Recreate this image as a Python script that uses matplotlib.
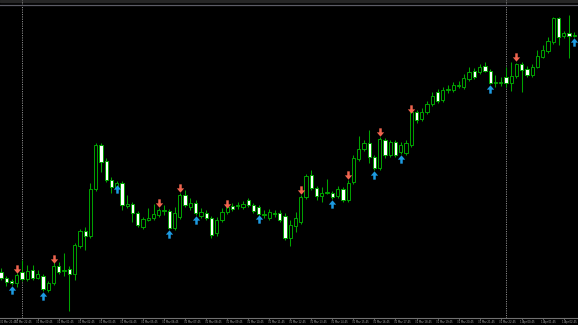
import matplotlib.pyplot as plt
from matplotlib.path import Path
import numpy as np

### --- candle data (15-min bars, oldest first) ---
opens = [53, 47, 44, 42, 53, 46, 55, 47, 49, 35,
         42, 59, 54, 56, 51, 79, 94, 89, 136, 180,
         164, 145, 138, 142, 119, 121, 112, 98, 105, 107,
         110, 114, 114, 97, 108, 130, 118, 122, 109, 112,
         107, 92, 105, 113, 119, 119, 118, 125, 120, 118,
         110, 107, 111, 112, 109, 87, 99, 103, 128, 150,
         137, 129, 132, 132, 129, 136, 125, 143, 166, 176,
         182, 168, 157, 185, 170, 183, 173, 172, 180, 213,
         206, 213, 221, 233, 225, 235, 235, 239, 238, 246,
         254, 253, 259, 254, 242, 242, 248, 242, 249, 261,
         256, 250, 258, 268, 274, 283, 307, 289, 292, 289,
         290]
highs = [57, 49, 46, 52, 65, 60, 60, 55, 51, 44,
         63, 63, 72, 59, 82, 96, 98, 142, 182, 182,
         167, 148, 144, 144, 130, 123, 114, 108, 117, 121,
         117, 120, 116, 118, 132, 135, 127, 125, 117, 115,
         109, 108, 117, 121, 122, 123, 124, 127, 122, 120,
         115, 116, 115, 115, 112, 105, 113, 130, 151, 155,
         139, 138, 146, 134, 139, 138, 145, 170, 189, 185,
         195, 170, 188, 187, 185, 185, 183, 185, 215, 215,
         217, 224, 233, 236, 238, 240, 243, 244, 251, 258,
         257, 261, 263, 256, 250, 248, 258, 263, 262, 263,
         259, 261, 275, 280, 288, 308, 308, 294, 310, 293,
         292]
lows = [45, 39, 40, 38, 44, 44, 45, 46, 34, 33,
        40, 51, 49, 14, 45, 77, 75, 87, 134, 153,
        143, 132, 136, 115, 117, 103, 98, 96, 104, 105,
        108, 110, 96, 95, 106, 118, 115, 110, 107, 105,
        87, 89, 103, 111, 114, 116, 116, 118, 112, 110,
        107, 105, 108, 103, 85, 79, 93, 101, 126, 135,
        125, 123, 131, 126, 127, 123, 123, 141, 164, 174,
        162, 155, 155, 167, 168, 168, 171, 170, 178, 202,
        204, 211, 219, 222, 223, 232, 233, 237, 236, 244,
        246, 251, 253, 241, 238, 239, 238, 234, 247, 233,
        248, 248, 257, 267, 272, 281, 280, 287, 267, 288,
        263]
closes = [47, 43, 42, 50, 46, 54, 47, 51, 36, 42,
          59, 53, 55, 51, 80, 94, 89, 136, 180, 163,
          145, 138, 142, 120, 121, 112, 100, 106, 107, 111,
          115, 115, 97, 112, 130, 120, 122, 112, 113, 107,
          90, 105, 113, 118, 116, 120, 121, 120, 114, 111,
          111, 113, 112, 105, 87, 100, 107, 128, 149, 137,
          129, 132, 133, 128, 136, 125, 142, 167, 176, 182,
          168, 157, 186, 170, 183, 170, 180, 182, 213, 205,
          213, 221, 229, 224, 235, 236, 240, 240, 247, 253,
          248, 258, 254, 242, 243, 243, 242, 249, 261, 255,
          250, 258, 269, 275, 284, 307, 288, 292, 289, 290,
          265]

# indicator signals
buy_bars = [2, 8, 22, 32, 37, 49, 63, 71, 76, 93, 109]
buy_levels = [35, 29, 136, 91, 105, 106, 121.5, 150.5, 166, 236, 283.5]
sell_bars = [3, 10, 30, 34, 43, 57, 66, 72, 78, 98]
sell_levels = [56.5, 66, 122, 137, 121, 135, 150, 193, 216.5, 268]

# day separators and time axis
separator_bars = [4, 96]
label_bars = list(range(-1, 108, 4))
time_labels = ["30 Mar 21:45", "30 Mar 22:45", "31 Mar 00:45", "31 Mar 01:45",
               "31 Mar 02:45", "31 Mar 03:45", "31 Mar 04:45", "31 Mar 05:45",
               "31 Mar 06:45", "31 Mar 07:45", "31 Mar 08:45", "31 Mar 09:45",
               "31 Mar 10:45", "31 Mar 11:45", "31 Mar 12:45", "31 Mar 13:45",
               "31 Mar 14:45", "31 Mar 15:45", "31 Mar 16:45", "31 Mar 17:45",
               "31 Mar 18:45", "31 Mar 19:45", "31 Mar 20:45", "31 Mar 21:45",
               "31 Mar 22:45", "1 Apr 00:45", "1 Apr 01:45", "1 Apr 02:45"]

CANDLE_GREEN = "#00a400"
GRID_GRAY = "#8a8a8a"
X_LEFT, X_RIGHT = -0.19, 109.7


### --- arrow marker ---
def arrow_marker(up: bool = True) -> Path:
    pts = [(-0.15, -0.5), (0.15, -0.5), (0.15, -0.02), (0.44, -0.02),
           (0.0, 0.5), (-0.44, -0.02), (-0.15, -0.02), (-0.15, -0.5)]
    if not up:
        pts = [(x, -y) for x, y in pts]
    return Path(pts, closed=True)


### --- draw the chart ---
def plot() -> None:
    fig = plt.figure(figsize=(5.78, 3.25), dpi=100, facecolor="black")
    ax = fig.add_axes([0, 7 / 325, 1, 318 / 325])
    ax.set_facecolor("black")

    x = np.arange(len(opens))
    o, h, l, c = map(np.asarray, (opens, highs, lows, closes))

    # wicks + bodies (bull = black, bear = white, MT4 style)
    ax.vlines(x, l, h, colors=CANDLE_GREEN, linewidth=0.75, zorder=2)
    bottoms = np.minimum(o, c)
    heights = np.maximum(np.abs(c - o), 0.6)
    fills = np.where(c >= o, "black", "white")
    ax.bar(x, heights, bottom=bottoms, width=0.62, color=fills,
           edgecolor=CANDLE_GREEN, linewidth=0.7, zorder=3)

    # buy / sell arrows
    ax.plot(buy_bars, buy_levels, linestyle="none", marker=arrow_marker(True),
            markersize=6.0, color="#1d9be2", markeredgewidth=0, zorder=4)
    ax.plot(sell_bars, sell_levels, linestyle="none", marker=arrow_marker(False),
            markersize=6.0, color="#f0654f", markeredgewidth=0, zorder=4)

    # period separators
    for b in separator_bars:
        ax.axvline(b, color=GRID_GRAY, linestyle=(0, (1.2, 1.2)), linewidth=0.7, zorder=1)

    # top strip of the terminal window
    ax.axhspan(322.6, 325, color="#262626", zorder=0)
    ax.axhline(320, color="#5c5c66", linewidth=0.9, zorder=1)

    for side in ("top", "left", "right"):
        ax.spines[side].set_visible(False)
    ax.spines["bottom"].set_color("#707070")
    ax.spines["bottom"].set_linewidth(0.8)

    ax.set_yticks([])
    ax.set_xticks(label_bars[1:], [""] * len(label_bars[1:]))
    ax.tick_params(axis="x", length=1.5, width=0.5, color="#808080", direction="out")

    # limits after the ticks, so set_xticks does not widen the view
    ax.set_xlim(X_LEFT, X_RIGHT)
    ax.set_ylim(7, 325)

    for b, lab in zip(label_bars, time_labels):
        ax.text(max(b - 0.3, X_LEFT), -0.005, lab, transform=ax.get_xaxis_transform(),
                ha="left", va="top", fontsize=1.8, color="#a8a8a8", clip_on=False)

    fig.savefig("out.png", dpi=100, facecolor="black")


plot()
